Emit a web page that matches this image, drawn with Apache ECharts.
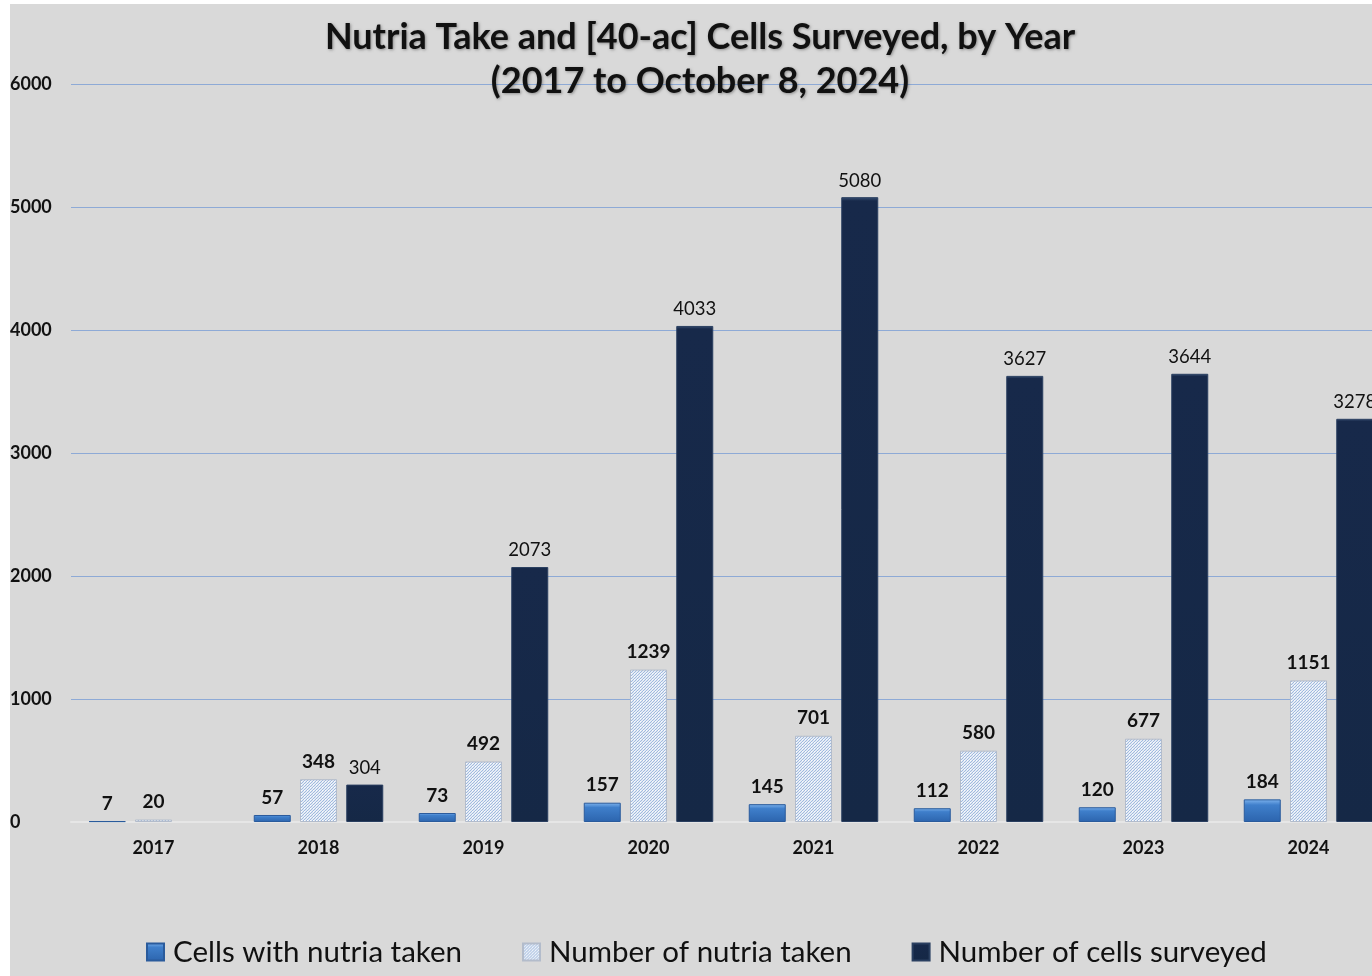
<!DOCTYPE html>
<html>
<head>
<meta charset="utf-8">
<script src="https://cdn.jsdelivr.net/npm/echarts@6/dist/echarts.min.js"></script>
<style>
html,body{margin:0;padding:0;background:#ffffff;width:1372px;height:976px;overflow:hidden;}
#chart{position:absolute;left:10px;top:4px;width:1400px;height:972px;}
</style>
</head>
<body>
<div id="chart"></div>
<script>
var years = ['2017','2018','2019','2020','2021','2022','2023','2024'];
var cellsWithNutria = [7, 57, 73, 157, 145, 112, 120, 184];
var nutriaTaken = [20, 348, 492, 1239, 701, 580, 677, 1151];
var cellsSurveyed = [null, 304, 2073, 4033, 5080, 3627, 3644, 3278];
var yTicks = [0, 1000, 2000, 3000, 4000, 5000, 6000];
var titleLines = ['Nutria Take and [40-ac] Cells Surveyed, by Year', '(2017 to October 8, 2024)'];
var seriesNames = ['Cells with nutria taken', 'Number of nutria taken', 'Number of cells surveyed'];

var FONT = 'Lato, "Open Sans", sans-serif';

// hatch pattern
var pc = document.createElement('canvas');
pc.width = 3; pc.height = 3;
var px = pc.getContext('2d');
px.fillStyle = '#e4ebf5';
px.fillRect(0,0,3,3);
px.fillStyle = '#9fb9de';
px.fillRect(2,0,1,1);
px.fillRect(1,1,1,1);
px.fillRect(0,2,1,1);
px.fillStyle = '#f8fafd';
px.fillRect(0,0,1,1);
var hatch = {image: pc, repeat: 'repeat'};

var chart = echarts.init(document.getElementById('chart'));
chart.setOption({
  backgroundColor: '#d9d9d9',
  animation: false,
  title: {
    text: titleLines.join('\n'),
    left: 685,
    textAlign: 'center',
    top: 6,
    textStyle: {
      fontFamily: FONT, fontSize: 36, fontWeight: 'bold', color: '#111',
      lineHeight: 44,
      textShadowColor: 'rgba(0,0,0,0.35)', textShadowBlur: 3, textShadowOffsetX: 1, textShadowOffsetY: 1
    }
  },
  legend: {
    top: 928,
    left: 131,
    itemWidth: 17, itemHeight: 17, itemGap: 60,
    icon: 'rect',
    textStyle: {fontFamily: FONT, fontSize: 29.5, color: '#111', padding: [0,0,0,4]},
    data: seriesNames
  },
  grid: {left: 61, top: 80, width: 1320, bottom: 154, containLabel: false, outerBoundsMode: 'none'},
  xAxis: {
    type: 'category',
    data: years,
    axisLine: {lineStyle: {color: '#e6e6e6', width: 2}},
    axisTick: {show: false},
    axisLabel: {fontFamily: FONT, fontSize: 18, fontWeight: 'bold', color: '#111', margin: 17}
  },
  yAxis: {
    type: 'value',
    min: yTicks[0], max: yTicks[yTicks.length-1], interval: 1000,
    axisLine: {show: false},
    axisTick: {show: false},
    splitLine: {lineStyle: {color: '#8eaad6', width: 1}},
    axisLabel: {fontFamily: FONT, fontSize: 18, fontWeight: 'bold', color: '#111', align: 'left', margin: 61,
      formatter: function (v) { return String(v); }}
  },
  series: [
    {
      name: seriesNames[0], type: 'bar', data: cellsWithNutria,
      barWidth: 37, barGap: '25%', barCategoryGap: '22%',
      itemStyle: {
        color: new echarts.graphic.LinearGradient(0,0,0,1,[
          {offset:0, color:'#7fb4ee'},{offset:0.25, color:'#3f7fcb'},{offset:1, color:'#2c64ad'}]),
        borderColor: '#2a5b9c', borderWidth: 1
      },
      label: {show: true, position: 'top', distance: 8, fontFamily: FONT, fontSize: 19, fontWeight: 'bold', color: '#111'}
    },
    {
      name: seriesNames[1], type: 'bar', data: nutriaTaken,
      barWidth: 37,
      itemStyle: {color: hatch, borderColor: '#b3bccb', borderWidth: 1},
      label: {show: true, position: 'top', distance: 8, fontFamily: FONT, fontSize: 19, fontWeight: 'bold', color: '#111'}
    },
    {
      name: seriesNames[2], type: 'bar', data: cellsSurveyed,
      barWidth: 37,
      itemStyle: {
        color: new echarts.graphic.LinearGradient(0,0,0,1,[
          {offset:0, color:'#3a5175'},{offset:0.006, color:'#17294a'},{offset:1, color:'#152846'}]),
        borderColor: '#2a3f60', borderWidth: 1
      },
      label: {show: true, position: 'top', distance: 7, fontFamily: FONT, fontSize: 18.5, color: '#111'}
    }
  ]
});
</script>
</body>
</html>
